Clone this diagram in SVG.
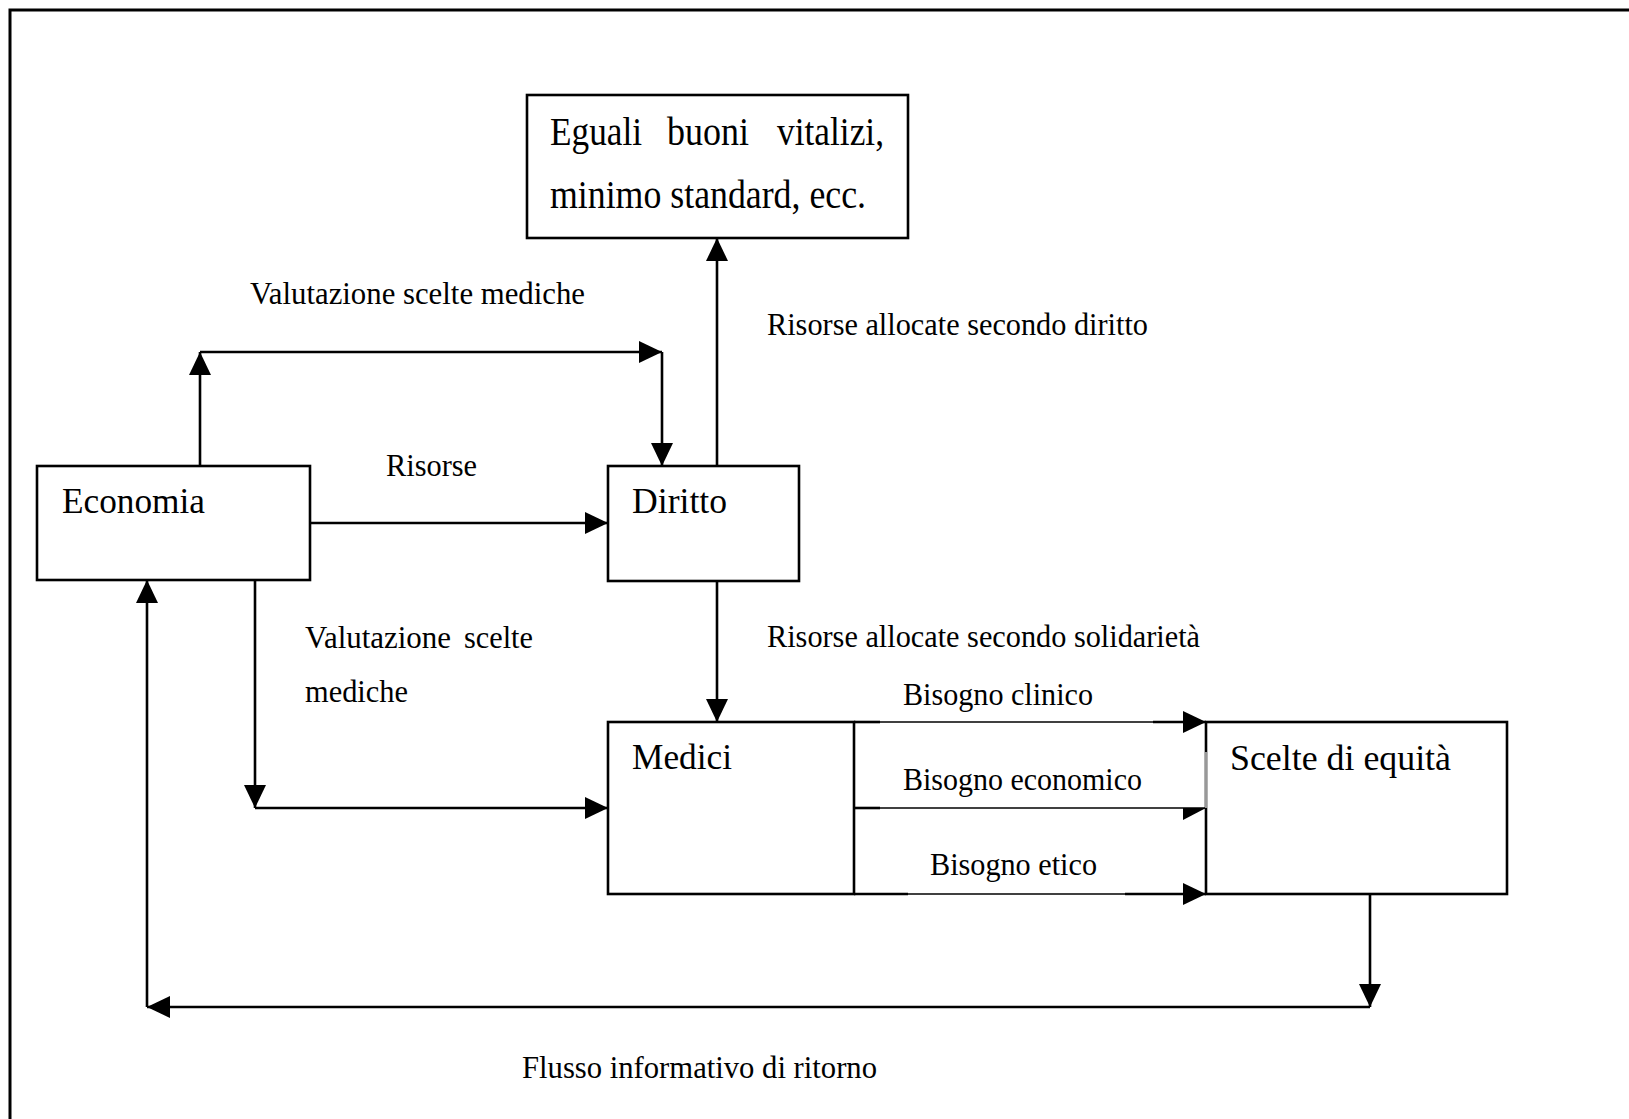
<svg xmlns="http://www.w3.org/2000/svg" width="1629" height="1119" viewBox="0 0 1629 1119">
  <style>
    .box { fill: #ffffff; stroke: #000000; stroke-width: 2.6; }
    .frame { fill: none; stroke: #000000; stroke-width: 3; }
    .wire { fill: none; stroke: #000000; stroke-width: 2.6; }
    .thin { fill: none; stroke: #000000; stroke-width: 1.4; }
    .big { font-family: "Liberation Serif", "Times New Roman", serif; font-size: 36px; fill: #000000; }
    .huge { font-family: "Liberation Serif", "Times New Roman", serif; font-size: 40px; fill: #000000; }
    .lbl { font-family: "Liberation Serif", "Times New Roman", serif; font-size: 32px; fill: #000000; }
  </style>
  <defs>
    <marker id="arrow" viewBox="0 0 23 22" refX="23" refY="11" markerWidth="23" markerHeight="22" markerUnits="userSpaceOnUse" orient="auto">
      <path d="M0,0 L23,11 L0,22 Z" fill="#000000"/>
    </marker>
  </defs>

  <rect width="1629" height="1119" fill="#ffffff"/>

  <!-- outer page frame, running past the right and bottom edges -->
  <rect class="frame" x="10" y="10" width="1650" height="1150"/>

  <!-- connectors -->
  <g id="connectors">
    <!-- Economia: up, across, down into Diritto -->
    <line class="wire" x1="200" y1="466" x2="200" y2="352" marker-end="url(#arrow)"/>
    <line class="wire" x1="200" y1="352" x2="662" y2="352" marker-end="url(#arrow)"/>
    <line class="wire" x1="662" y1="352" x2="662" y2="466" marker-end="url(#arrow)"/>
    <!-- Risorse -->
    <line class="wire" x1="310" y1="523" x2="608" y2="523" marker-end="url(#arrow)"/>
    <!-- Diritto up to Eguali box -->
    <line class="wire" x1="717" y1="466" x2="717" y2="238" marker-end="url(#arrow)"/>
    <!-- Diritto down to Medici -->
    <line class="wire" x1="717" y1="580" x2="717" y2="722" marker-end="url(#arrow)"/>
    <!-- Economia down and across to Medici -->
    <line class="wire" x1="255" y1="580" x2="255" y2="808" marker-end="url(#arrow)"/>
    <line class="wire" x1="255" y1="808" x2="608" y2="808" marker-end="url(#arrow)"/>

    <!-- Medici to Scelte: clinico -->
    <line class="wire" x1="854" y1="722" x2="880" y2="722"/>
    <line class="thin" x1="880" y1="722" x2="1153" y2="722"/>
    <line class="wire" x1="1153" y1="722" x2="1206" y2="722" marker-end="url(#arrow)"/>
    <!-- economico (half arrowhead) -->
    <line class="wire" x1="854" y1="808" x2="880" y2="808"/>
    <line class="thin" x1="880" y1="808" x2="1206" y2="808"/>
    <path d="M1183,808 L1206,808 L1183,820 Z" fill="#000000"/>
    <!-- etico -->
    <line class="wire" x1="854" y1="894" x2="908" y2="894"/>
    <line class="thin" x1="908" y1="894" x2="1125" y2="894"/>
    <line class="wire" x1="1125" y1="894" x2="1206" y2="894" marker-end="url(#arrow)"/>

    <!-- feedback loop from Scelte back to Economia -->
    <line class="wire" x1="1370" y1="894" x2="1370" y2="1007" marker-end="url(#arrow)"/>
    <line class="wire" x1="1370" y1="1007" x2="147" y2="1007" marker-end="url(#arrow)"/>
    <line class="wire" x1="147" y1="1007" x2="147" y2="580" marker-end="url(#arrow)"/>
  </g>

  <!-- nodes -->
  <g id="eguali">
    <rect class="box" x="527" y="95" width="381" height="143"/>
    <text class="huge" x="550" y="145" textLength="92" lengthAdjust="spacingAndGlyphs">Eguali</text>
    <text class="huge" x="667" y="145" textLength="82" lengthAdjust="spacingAndGlyphs">buoni</text>
    <text class="huge" x="777" y="145" textLength="107" lengthAdjust="spacingAndGlyphs">vitalizi,</text>
    <text class="huge" x="550" y="208" textLength="316" lengthAdjust="spacingAndGlyphs">minimo standard, ecc.</text>
  </g>

  <g id="economia">
    <rect class="box" x="37" y="466" width="273" height="114"/>
    <text class="big" x="62" y="513" textLength="143" lengthAdjust="spacingAndGlyphs">Economia</text>
  </g>

  <g id="diritto">
    <rect class="box" x="608" y="466" width="191" height="115"/>
    <text class="big" x="632" y="513" textLength="95" lengthAdjust="spacingAndGlyphs">Diritto</text>
  </g>

  <g id="medici">
    <rect class="box" x="608" y="722" width="246" height="172"/>
    <text class="big" x="632" y="769" textLength="100" lengthAdjust="spacingAndGlyphs">Medici</text>
  </g>

  <g id="scelte">
    <rect class="box" x="1206" y="722" width="301" height="172"/>
    <line x1="1206" y1="752" x2="1206" y2="808" stroke="#ffffff" stroke-width="1.2"/>
    <text class="big" x="1230" y="770" textLength="221" lengthAdjust="spacingAndGlyphs">Scelte di equità</text>
  </g>

  <!-- connector labels -->
  <g id="labels">
    <text class="lbl" x="250" y="304" textLength="335" lengthAdjust="spacingAndGlyphs">Valutazione scelte mediche</text>
    <text class="lbl" x="386" y="476" textLength="91" lengthAdjust="spacingAndGlyphs">Risorse</text>
    <text class="lbl" x="767" y="335" textLength="381" lengthAdjust="spacingAndGlyphs">Risorse allocate secondo diritto</text>
    <text class="lbl" x="767" y="647" textLength="433" lengthAdjust="spacingAndGlyphs">Risorse allocate secondo solidarietà</text>
    <text class="lbl" x="305" y="648" textLength="146" lengthAdjust="spacingAndGlyphs">Valutazione</text>
    <text class="lbl" x="464" y="648" textLength="69" lengthAdjust="spacingAndGlyphs">scelte</text>
    <text class="lbl" x="305" y="702" textLength="103" lengthAdjust="spacingAndGlyphs">mediche</text>
    <text class="lbl" x="903" y="705" textLength="190" lengthAdjust="spacingAndGlyphs">Bisogno clinico</text>
    <text class="lbl" x="903" y="790" textLength="239" lengthAdjust="spacingAndGlyphs">Bisogno economico</text>
    <text class="lbl" x="930" y="875" textLength="167" lengthAdjust="spacingAndGlyphs">Bisogno etico</text>
    <text class="lbl" x="522" y="1078" textLength="355" lengthAdjust="spacingAndGlyphs">Flusso informativo di ritorno</text>
  </g>
</svg>
